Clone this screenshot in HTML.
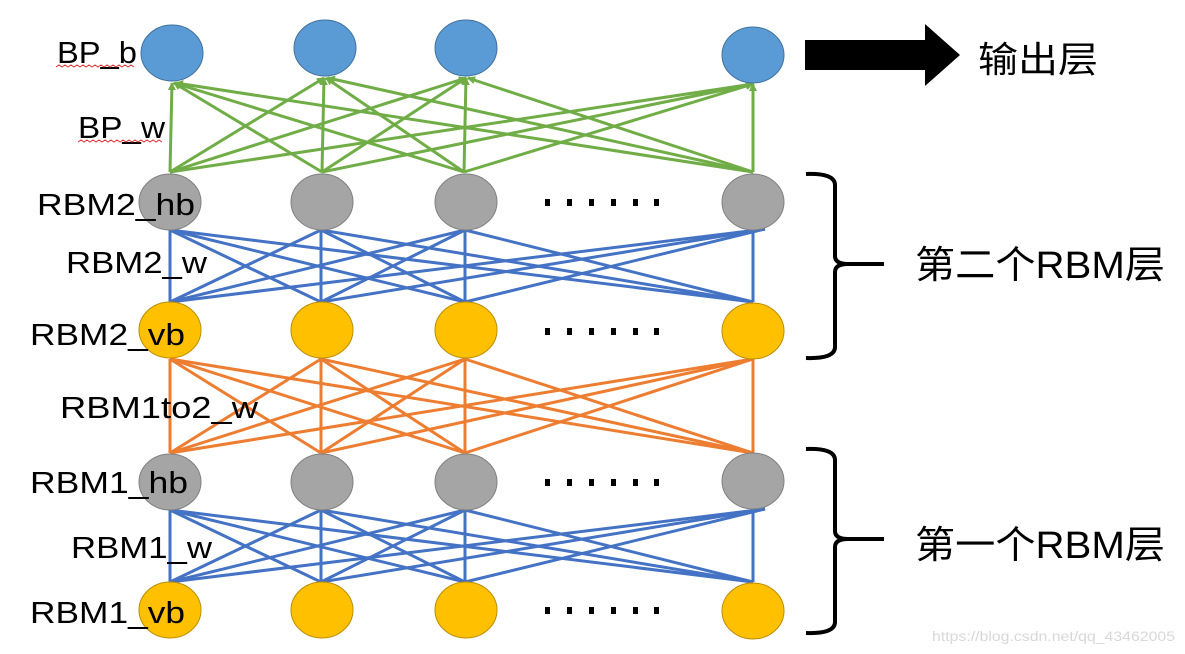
<!DOCTYPE html>
<html><head><meta charset="utf-8"><style>
html,body{margin:0;padding:0;background:#fff;}
svg{display:block;}
text{font-family:"Liberation Sans","Noto Sans CJK SC",sans-serif;fill:#000;}
</style></head><body>
<svg width="1185" height="654" viewBox="0 0 1185 654" xmlns="http://www.w3.org/2000/svg">
<defs>
<marker id="ag" markerWidth="8" markerHeight="8" refX="7" refY="4" orient="auto" markerUnits="userSpaceOnUse">
<path d="M0,0 L8,4 L0,8 z" fill="#70AD47"/></marker>
</defs>
<!-- green edges -->
<g stroke="#70AD47" stroke-width="3" fill="none" marker-end="url(#ag)">
<line x1="170" y1="172" x2="172" y2="83"/>
<line x1="170" y1="172" x2="324" y2="78"/>
<line x1="170" y1="172" x2="466" y2="78"/>
<line x1="170" y1="172" x2="753" y2="84"/>
<line x1="322" y1="172" x2="174" y2="83"/>
<line x1="322" y1="172" x2="324" y2="78"/>
<line x1="322" y1="172" x2="466" y2="78"/>
<line x1="322" y1="172" x2="753" y2="84"/>
<line x1="464" y1="172" x2="174" y2="83"/>
<line x1="464" y1="172" x2="326" y2="78"/>
<line x1="464" y1="172" x2="466" y2="78"/>
<line x1="464" y1="172" x2="753" y2="84"/>
<line x1="753" y1="172" x2="176" y2="83"/>
<line x1="753" y1="172" x2="328" y2="78"/>
<line x1="753" y1="172" x2="468" y2="78"/>
<line x1="753" y1="172" x2="753" y2="84"/>
</g>
<!-- blue RBM2 edges -->
<g stroke="#4472C4" stroke-width="3">
<line x1="170" y1="230" x2="170" y2="302"/><line x1="170" y1="230" x2="321" y2="302"/><line x1="170" y1="230" x2="465" y2="302"/><line x1="170" y1="230" x2="753" y2="302"/>
<line x1="321" y1="230" x2="170" y2="302"/><line x1="321" y1="230" x2="321" y2="302"/><line x1="321" y1="230" x2="465" y2="302"/><line x1="321" y1="230" x2="753" y2="302"/>
<line x1="465" y1="230" x2="170" y2="302"/><line x1="465" y1="230" x2="321" y2="302"/><line x1="465" y1="230" x2="465" y2="302"/><line x1="465" y1="230" x2="753" y2="302"/>
<line x1="765" y1="229" x2="170" y2="302"/><line x1="765" y1="229" x2="321" y2="302"/><line x1="765" y1="229" x2="465" y2="302"/><line x1="753" y1="230" x2="753" y2="302"/>
</g>
<!-- orange edges -->
<g stroke="#ED7D31" stroke-width="3">
<line x1="170" y1="359" x2="170" y2="453"/><line x1="170" y1="359" x2="321" y2="453"/><line x1="170" y1="359" x2="465" y2="453"/><line x1="170" y1="359" x2="753" y2="453"/>
<line x1="321" y1="359" x2="170" y2="453"/><line x1="321" y1="359" x2="321" y2="453"/><line x1="321" y1="359" x2="465" y2="453"/><line x1="321" y1="359" x2="753" y2="453"/>
<line x1="465" y1="359" x2="170" y2="453"/><line x1="465" y1="359" x2="321" y2="453"/><line x1="465" y1="359" x2="465" y2="453"/><line x1="465" y1="359" x2="753" y2="453"/>
<line x1="753" y1="359" x2="170" y2="453"/><line x1="753" y1="359" x2="321" y2="453"/><line x1="753" y1="359" x2="465" y2="453"/><line x1="753" y1="359" x2="753" y2="453"/>
</g>
<!-- blue RBM1 edges -->
<g stroke="#4472C4" stroke-width="3">
<line x1="170" y1="510" x2="170" y2="582"/><line x1="170" y1="510" x2="321" y2="582"/><line x1="170" y1="510" x2="465" y2="582"/><line x1="170" y1="510" x2="753" y2="582"/>
<line x1="321" y1="510" x2="170" y2="582"/><line x1="321" y1="510" x2="321" y2="582"/><line x1="321" y1="510" x2="465" y2="582"/><line x1="321" y1="510" x2="753" y2="582"/>
<line x1="465" y1="510" x2="170" y2="582"/><line x1="465" y1="510" x2="321" y2="582"/><line x1="465" y1="510" x2="465" y2="582"/><line x1="465" y1="510" x2="753" y2="582"/>
<line x1="765" y1="509" x2="170" y2="582"/><line x1="765" y1="509" x2="321" y2="582"/><line x1="765" y1="509" x2="465" y2="582"/><line x1="753" y1="510" x2="753" y2="582"/>
</g>
<!-- nodes -->
<g stroke="#41719C" stroke-width="1" fill="#5B9BD5">
<ellipse cx="172" cy="53" rx="31" ry="28"/><ellipse cx="325" cy="48" rx="31" ry="28"/><ellipse cx="466" cy="48" rx="31" ry="28"/><ellipse cx="753" cy="55" rx="31" ry="28"/>
</g>
<g stroke="#808080" stroke-width="1" fill="#A5A5A5">
<ellipse cx="170" cy="202" rx="31" ry="28"/><ellipse cx="322" cy="202" rx="31" ry="28"/><ellipse cx="466" cy="202" rx="31" ry="28"/><ellipse cx="753" cy="202" rx="31" ry="28"/>
<ellipse cx="170" cy="482" rx="31" ry="28"/><ellipse cx="322" cy="482" rx="31" ry="28"/><ellipse cx="466" cy="482" rx="31" ry="28"/><ellipse cx="753" cy="481" rx="31" ry="28"/>
</g>
<g stroke="#BC8C00" stroke-width="1" fill="#FFC000">
<ellipse cx="170" cy="330" rx="31" ry="28"/><ellipse cx="322" cy="330" rx="31" ry="28"/><ellipse cx="466" cy="330" rx="31" ry="28"/><ellipse cx="753" cy="331" rx="31" ry="28"/>
<ellipse cx="170" cy="610" rx="31" ry="28"/><ellipse cx="322" cy="610" rx="31" ry="28"/><ellipse cx="466" cy="610" rx="31" ry="28"/><ellipse cx="753" cy="611" rx="31" ry="28"/>
</g>
<!-- dots -->
<g fill="#000">
<g id="dots"><rect x="545" y="199" width="5" height="7"/><rect x="567" y="199" width="5" height="7"/><rect x="589" y="199" width="5" height="7"/><rect x="611" y="199" width="5" height="7"/><rect x="633" y="199" width="5" height="7"/><rect x="654" y="199" width="5" height="7"/></g>
<use href="#dots" y="129"/><use href="#dots" y="280"/><use href="#dots" y="408"/>
</g>
<!-- labels -->
<g font-size="31">
<text x="57" y="63" textLength="80" lengthAdjust="spacingAndGlyphs">BP_b</text>
<text x="78" y="138" textLength="87" lengthAdjust="spacingAndGlyphs">BP_w</text>
<text x="37" y="215" textLength="158" lengthAdjust="spacingAndGlyphs">RBM2_hb</text>
<text x="66" y="273" textLength="141" lengthAdjust="spacingAndGlyphs">RBM2_w</text>
<text x="30" y="345" textLength="155" lengthAdjust="spacingAndGlyphs">RBM2_vb</text>
<text x="60" y="418" textLength="198" lengthAdjust="spacingAndGlyphs">RBM1to2_w</text>
<text x="30" y="493" textLength="158" lengthAdjust="spacingAndGlyphs">RBM1_hb</text>
<text x="71" y="558" textLength="141" lengthAdjust="spacingAndGlyphs">RBM1_w</text>
<text x="30" y="623" textLength="155" lengthAdjust="spacingAndGlyphs">RBM1_vb</text>
</g>
<g stroke="#e03030" stroke-width="1" fill="none">
<path d="M56,67 l3,-2 l3,2 l3,-2 l3,2 l3,-2 l3,2 l3,-2 l3,2 l3,-2 l3,2 l3,-2 l3,2 l3,-2 l3,2 l3,-2 l3,2 l3,-2 l3,2 l3,-2 l3,2 l3,-2 l3,2 l3,-2 l3,2 l3,-2 l3,2"/>
<path d="M78,142 l3,-2 l3,2 l3,-2 l3,2 l3,-2 l3,2 l3,-2 l3,2 l3,-2 l3,2 l3,-2 l3,2 l3,-2 l3,2 l3,-2 l3,2 l3,-2 l3,2 l3,-2 l3,2 l3,-2 l3,2 l3,-2 l3,2 l3,-2 l3,2 l3,-2 l3,2"/>
</g>
<!-- big arrow -->
<path d="M805,40 L925,40 L925,24 L960,55 L925,86 L925,70 L805,70 z" fill="#000"/>
<text x="978" y="72" font-size="36" textLength="120" lengthAdjust="spacingAndGlyphs">输出层</text>
<!-- brackets -->
<g stroke="#000" stroke-width="4" fill="none">
<path d="M806,174 Q835,173 835,185 L835,256 Q835,264 848,264 L884,264 M848,264 Q835,264 835,272 L835,347 Q835,359 806,358"/>
<path d="M806,449 Q835,448 835,460 L835,531 Q835,539 848,539 L884,539 M848,539 Q835,539 835,547 L835,622 Q835,634 806,633"/>
</g>
<text x="915" y="278" font-size="38" textLength="250" lengthAdjust="spacingAndGlyphs">第二个RBM层</text>
<text x="915" y="558" font-size="38" textLength="250" lengthAdjust="spacingAndGlyphs">第一个RBM层</text>
<text x="932" y="641" font-size="14" fill="#d8d8d8" style="fill:#d8d8d8" textLength="243" lengthAdjust="spacingAndGlyphs">https://blog.csdn.net/qq_43462005</text>
</svg>
</body></html>
